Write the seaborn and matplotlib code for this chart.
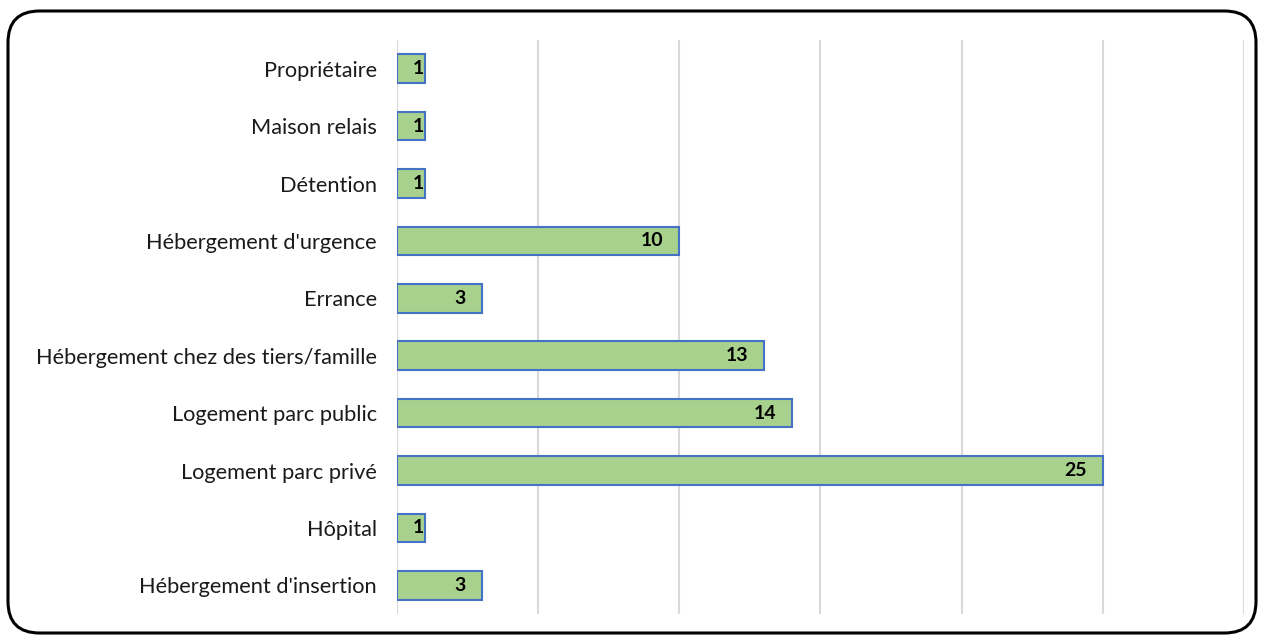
import matplotlib
matplotlib.use("Agg")
import matplotlib.pyplot as plt
from matplotlib.patches import FancyBboxPatch
from matplotlib.transforms import offset_copy
import seaborn as sns
import pandas as pd

categories = [
    "Propriétaire",
    "Maison relais",
    "Détention",
    "Hébergement d'urgence",
    "Errance",
    "Hébergement chez des tiers/famille",
    "Logement parc public",
    "Logement parc privé",
    "Hôpital",
    "Hébergement d'insertion",
]
values = [1, 1, 1, 10, 3, 13, 14, 25, 1, 3]

df = pd.DataFrame({"categorie": categories, "effectif": values})

sns.set_theme(style="white")
plt.rcParams["font.family"] = ["Lato", "DejaVu Sans"]

fig = plt.figure(figsize=(12.63, 6.37), dpi=100)
ax = fig.add_axes([0.3143, 0.0361, 0.6706, 0.9011])

sns.barplot(
    data=df, y="categorie", x="effectif", orient="h",
    color="#A9D18E", edgecolor="#4472C4", linewidth=1.5,
    width=0.5, ax=ax, saturation=1,
)

ax.set_xlim(0, 30)
ax.set_xticks(range(0, 31, 5))
ax.set_xticklabels([])
ax.grid(axis="x", color="#D9D9D9", linewidth=1.5)
ax.set_axisbelow(True)
for s in ax.spines.values():
    s.set_visible(False)
ax.set_xlabel("")
ax.set_ylabel("")
ax.tick_params(axis="y", length=0, pad=14.5, labelsize=15.7, labelcolor="#1a1a1a")
ax.tick_params(axis="x", length=0)

# value labels inside the bar end
for i, v in enumerate(values):
    pad = 1 if v < 2 else 16
    tr = offset_copy(ax.transData, fig=fig, x=-pad, y=0, units="dots")
    ax.text(v, i, str(v), transform=tr, ha="right", va="center",
            fontsize=14, fontweight="bold", color="black")

# rounded outer frame
frame = FancyBboxPatch(
    (8 / 1263, 1 - 633 / 637), (1248 / 1263), (622 / 637),
    boxstyle="round,pad=0,rounding_size=0.025",
    transform=fig.transFigure, fill=False, edgecolor="black",
    linewidth=2.2, mutation_aspect=1263 / 637,
)
fig.patches.append(frame)

fig.savefig("out.png", dpi=100)
